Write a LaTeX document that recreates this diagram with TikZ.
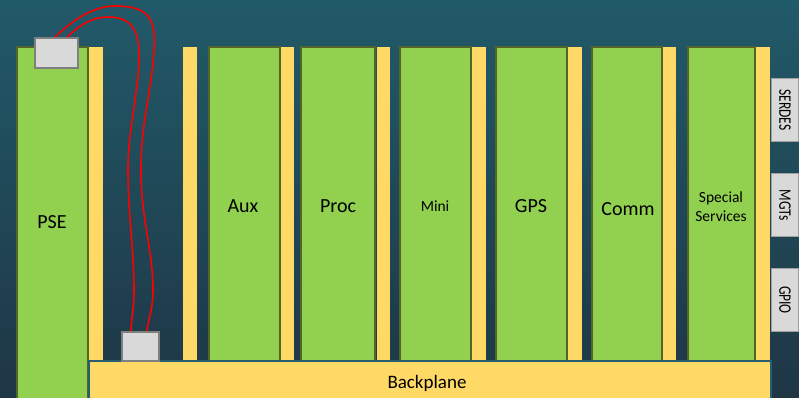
\documentclass[tikz,border=0pt]{standalone}
\usepackage{fontspec}
\setmainfont{Carlito}
\definecolor{bgtop}{RGB}{33,90,105}
\definecolor{bgbot}{RGB}{31,54,69}
\definecolor{cardgreen}{RGB}{146,208,80}
\definecolor{cardedge}{RGB}{82,102,42}
\definecolor{slotyellow}{RGB}{255,217,102}
\definecolor{bpedge}{RGB}{37,94,112}
\definecolor{boxgray}{RGB}{217,217,217}
\definecolor{boxedge}{RGB}{127,127,127}
\definecolor{tabedge}{RGB}{160,160,160}
\definecolor{cablered}{RGB}{255,0,0}
\begin{document}
\begin{tikzpicture}[x=1pt,y=-1pt,
  card/.style={fill=cardgreen, draw=cardedge, line width=1.5pt, inner sep=0pt, anchor=north west},
  big/.style={font=\fontsize{20}{22}\selectfont},
  small/.style={font=\fontsize{15.5}{19}\selectfont, align=center},
  slot/.style={fill=slotyellow, inner sep=0pt, anchor=north west, minimum width=14pt},
  conn/.style={fill=boxgray, draw=boxedge, line width=2pt, inner sep=0pt, anchor=north west},
  tab/.style={fill=boxgray, draw=tabedge, line width=1pt, inner sep=0pt, anchor=north west, minimum width=27pt, minimum height=63pt},
  tablbl/.style={rotate=-90, font=\fontsize{13.5}{14}\selectfont},
  cable/.style={draw=cablered, line width=1.6pt}]
\useasboundingbox (0,0) rectangle (799,397);
\clip (0,0) rectangle (799,397);
\fill[top color=bgtop, bottom color=bgbot] (0,0) rectangle (799,397);
% yellow slots
\node[slot, minimum height=313pt] (s1) at (89,47) {};
\node[slot, minimum height=313pt] (s2) at (183,47) {};
\node[slot, minimum height=313pt] (s3) at (280,47) {};
\node[slot, minimum height=313pt, minimum width=13pt] (s4) at (377,47) {};
\node[slot, minimum height=313pt] (s5) at (472,47) {};
\node[slot, minimum height=313pt] (s6) at (568,47) {};
\node[slot, minimum height=313pt, minimum width=13pt] (s7) at (663,47) {};
\node[slot, minimum height=313pt] (s8) at (756,47) {};
% cards
\node[card, minimum width=71pt, minimum height=370pt] (pse) at (16,46) {};
\node[card, minimum width=71pt, minimum height=314pt] (aux) at (208,46) {};
\node[card, minimum width=74pt, minimum height=314pt] (proc) at (300,46) {};
\node[card, minimum width=71pt, minimum height=314pt] (mini) at (399,46) {};
\node[card, minimum width=71pt, minimum height=314pt] (gps) at (495,46) {};
\node[card, minimum width=70pt, minimum height=314pt] (comm) at (591,46) {};
\node[card, minimum width=67pt, minimum height=314pt] (spec) at (687,46) {};
\node[big] (pselbl) at (52,222) {PSE};
\node[big] (auxlbl) at (243,206) {Aux};
\node[big] (proclbl) at (338,206) {Proc};
\node[font=\fontsize{15.5}{17}\selectfont] (minilbl) at (435,206) {Mini};
\node[big] (gpslbl) at (531,206) {GPS};
\node[big] (commlbl) at (628,209) {Comm};
\node[small] (speclbl) at (721,207) {Special\\Services};
% backplane
\node[fill=slotyellow, draw=bpedge, line width=1.5pt, inner sep=0pt, anchor=north west, minimum width=682pt, minimum height=45pt] (bp) at (88,360) {};
\node[font=\fontsize{19}{21}\selectfont] (bplbl) at (427,383) {Backplane};
% connectors
\node[conn, minimum width=43pt, minimum height=30pt] (c1) at (34,37) {};
\node[conn, minimum width=37pt, minimum height=29pt] (c2) at (121,331) {};
% cables
\draw[cable] ([xshift=21pt]c1.north west) .. controls (75,18) and (95,6) .. (115,6)
  .. controls (150,6) and (156,20) .. (154,50)
  .. controls (152,90) and (141,120) .. (141,170)
  .. controls (141,220) and (153,250) .. (153,290)
  .. controls (153,310) and (148,320) .. ([xshift=26pt]c2.north west);
\draw[cable] ([xshift=33pt]c1.north west) .. controls (80,25) and (92,17) .. (108,17)
  .. controls (130,17) and (140,28) .. (139,60)
  .. controls (138,95) and (128,130) .. (128,170)
  .. controls (128,215) and (134,250) .. (134,290)
  .. controls (134,310) and (131,320) .. ([xshift=10pt]c2.north west);
% side tabs
\node[tab] (t1) at (771,78) {};
\node[tab] (t2) at (771,173) {};
\node[tab] (t3) at (771,268) {};
\node[tablbl] (l1) at (t1.center) {\scalebox{1}[1.3]{SERDES}};
\node[tablbl] (l2) at (t2.center) {\scalebox{1}[1.3]{MGTs}};
\node[tablbl] (l3) at (t3.center) {\scalebox{1}[1.3]{GPIO}};
\end{tikzpicture}
\end{document}
